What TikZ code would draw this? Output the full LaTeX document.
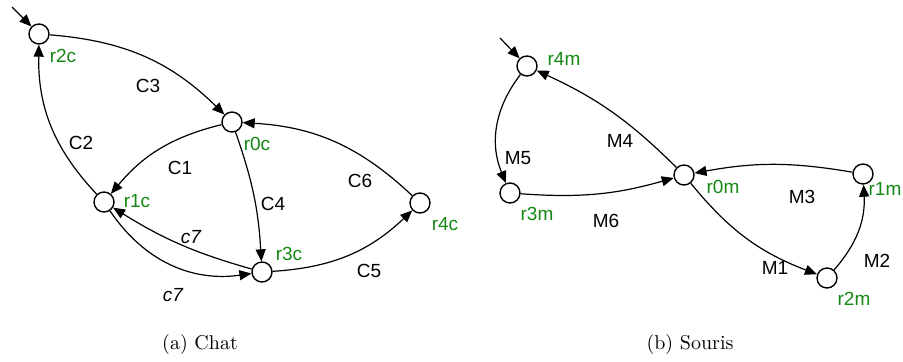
\documentclass[tikz,border=0pt]{standalone}
\usepackage{fontspec}
\newfontfamily\etiqfont{Liberation Sans}
\usetikzlibrary{arrows.meta}
\definecolor{vertetat}{RGB}{20,135,20}
\tikzset{etat/.style={draw,circle,line width=0.7pt,minimum size=10pt,inner sep=0pt,fill=white},
         nometat/.style={text=vertetat,font=\etiqfont\fontsize{9.5}{11}\selectfont,inner sep=0pt},
         trans/.style={font=\etiqfont\fontsize{9.5}{11}\selectfont,inner sep=0pt},
         fleche/.style={draw,line width=0.6pt,-{Triangle[length=6pt,width=5pt]}},
         legende/.style={inner sep=0pt}}

\begin{document}
\begin{tikzpicture}[x=0.5pt,y=0.5pt]
    \useasboundingbox (0,0) rectangle (903,361);
    % (a) Chat
    \node[etat] (r2c) at (39,327) {};
    \node[etat] (r0c) at (232,239) {};
    \node[etat] (r1c) at (104,159) {};
    \node[etat] (r3c) at (262,89) {};
    \node[etat] (r4c) at (420,158) {};
    \coordinate (init-c) at (12,354);
    \node[nometat] (n-r2c) at (63,305) {r2c};
    \node[nometat] (n-r0c) at (257,217) {r0c};
    \node[nometat] (n-r1c) at (137,160) {r1c};
    \node[nometat] (n-r3c) at (289,107) {r3c};
    \node[nometat] (n-r4c) at (445,137) {r4c};
    \draw[fleche] (init-c) -- (r2c);
    \draw[fleche] (r2c) to[bend left=20] (r0c);
    \draw[fleche] (r0c) to[bend right=18] (r1c);
    \draw[fleche] (r1c) to[bend left=22] (r2c);
    \draw[fleche] (r0c) to[bend left=8] (r3c);
    \draw[fleche] (r3c) to[bend right=20] (r4c);
    \draw[fleche] (r4c) to[bend right=20] (r0c);
    \draw[fleche] (r3c) to[bend left=8] (r1c);
    \draw[fleche] (r1c) to[bend right=32] (r3c);
    \node[trans] (e-c3) at (148,275) {C3};
    \node[trans] (e-c2) at (81,218) {C2};
    \node[trans] (e-c1) at (180,193) {C1};
    \node[trans] (e-c4) at (273,157) {C4};
    \node[trans] (e-c6) at (360,180) {C6};
    \node[trans] (e-c5) at (369,90) {C5};
    \node[trans,font=\etiqfont\itshape\fontsize{9.5}{11}\selectfont] (e-c7a) at (191,124) {c7};
    \node[trans,font=\etiqfont\itshape\fontsize{9.5}{11}\selectfont] (e-c7b) at (173,66) {c7};
    % (b) Souris
    \node[etat] (r4m) at (527,295) {};
    \node[etat] (r0m) at (684,186) {};
    \node[etat] (r3m) at (510,168) {};
    \node[etat] (r1m) at (863,187) {};
    \node[etat] (r2m) at (827,83) {};
    \coordinate (init-m) at (500,323);
    \node[nometat] (n-r4m) at (564,302) {r4m};
    \node[nometat] (n-r0m) at (723,174) {r0m};
    \node[nometat] (n-r3m) at (537,147) {r3m};
    \node[nometat] (n-r1m) at (885,172) {r1m};
    \node[nometat] (n-r2m) at (854,62) {r2m};
    \draw[fleche] (init-m) -- (r4m);
    \draw[fleche] (r0m) to[bend right=10] (r4m);
    \draw[fleche] (r4m) to[bend right=30] (r3m);
    \draw[fleche] (r3m) to[bend right=10] (r0m);
    \draw[fleche] (r1m) to[bend right=10] (r0m);
    \draw[fleche] (r0m) to[bend right=15] (r2m);
    \draw[fleche] (r2m) to[bend right=22] (r1m);
    \node[trans] (e-m4) at (620,220) {M4};
    \node[trans] (e-m5) at (518,203) {M5};
    \node[trans] (e-m6) at (606,140) {M6};
    \node[trans] (e-m3) at (802,164) {M3};
    \node[trans] (e-m1) at (775,93) {M1};
    \node[trans] (e-m2) at (877,100) {M2};
    % legendes
    \node[legende] (cap-a) at (200,17) {(a) Chat};
    \node[legende] (cap-b) at (690,17) {(b) Souris};
\end{tikzpicture}
\end{document}
